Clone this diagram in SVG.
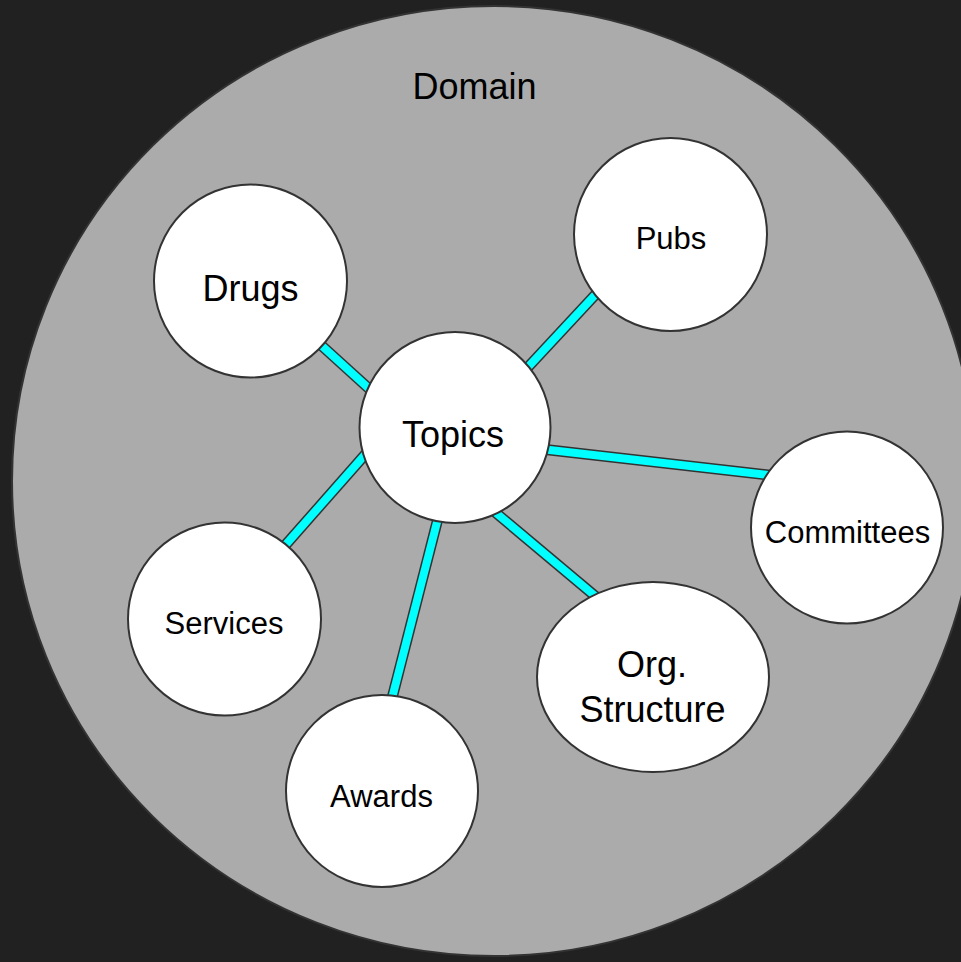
<svg xmlns="http://www.w3.org/2000/svg" width="961" height="962" viewBox="0 0 961 962">
<style>
.bg{fill:#212121}
.domain{fill:#ababab;stroke:#333333;stroke-width:2}
.node{fill:#ffffff;stroke:#333333;stroke-width:2}
.eo{stroke:#333333;stroke-width:11;stroke-linecap:butt;fill:none}
.ei{stroke:#00ffff;stroke-width:8;stroke-linecap:butt;fill:none}
text{font-family:"Liberation Sans",Arial,sans-serif;fill:#000000;text-anchor:middle}
.lg{font-size:36px}
.sm{font-size:31px}
</style>
<rect class="bg" x="0" y="0" width="961" height="962"/>
<g id="domain">
<ellipse class="domain" cx="494" cy="481" rx="482" ry="475"/>
<text class="lg" x="474.5" y="99">Domain</text>
</g>
<g id="connectors">
<line class="eo" x1="307.7" y1="333" x2="381" y2="399.5"/>
<line class="ei" x1="307.7" y1="333" x2="381" y2="399.5"/>
<line class="eo" x1="609" y1="280" x2="516" y2="380"/>
<line class="ei" x1="609" y1="280" x2="516" y2="380"/>
<line class="eo" x1="530" y1="447.7" x2="790" y2="477.5"/>
<line class="ei" x1="530" y1="447.7" x2="790" y2="477.5"/>
<line class="eo" x1="483" y1="502" x2="607" y2="606"/>
<line class="ei" x1="483" y1="502" x2="607" y2="606"/>
<line class="eo" x1="385" y1="432" x2="274" y2="558"/>
<line class="ei" x1="385" y1="432" x2="274" y2="558"/>
<line class="eo" x1="442" y1="502.6" x2="388" y2="714"/>
<line class="ei" x1="442" y1="502.6" x2="388" y2="714"/>
</g>
<g id="drugs">
<circle class="node" cx="250.5" cy="281" r="96.5"/>
<text class="lg" x="250.5" y="301">Drugs</text>
</g>
<g id="pubs">
<circle class="node" cx="670.5" cy="234.5" r="96.5"/>
<text class="sm" x="671" y="249">Pubs</text>
</g>
<g id="topics">
<circle class="node" cx="455" cy="427.5" r="95.5"/>
<text class="lg" x="453" y="447">Topics</text>
</g>
<g id="committees">
<circle class="node" cx="847" cy="527.5" r="96"/>
<text class="sm" x="847.5" y="543">Committees</text>
</g>
<g id="services">
<circle class="node" cx="224.5" cy="619" r="96.5"/>
<text class="sm" x="224" y="634">Services</text>
</g>
<g id="org-structure">
<ellipse class="node" cx="653" cy="677" rx="116" ry="95"/>
<text class="lg" x="652" y="677">Org.</text>
<text class="lg" x="652.5" y="722">Structure</text>
</g>
<g id="awards">
<circle class="node" cx="382" cy="791" r="96"/>
<text class="sm" x="381.5" y="807">Awards</text>
</g>
</svg>
